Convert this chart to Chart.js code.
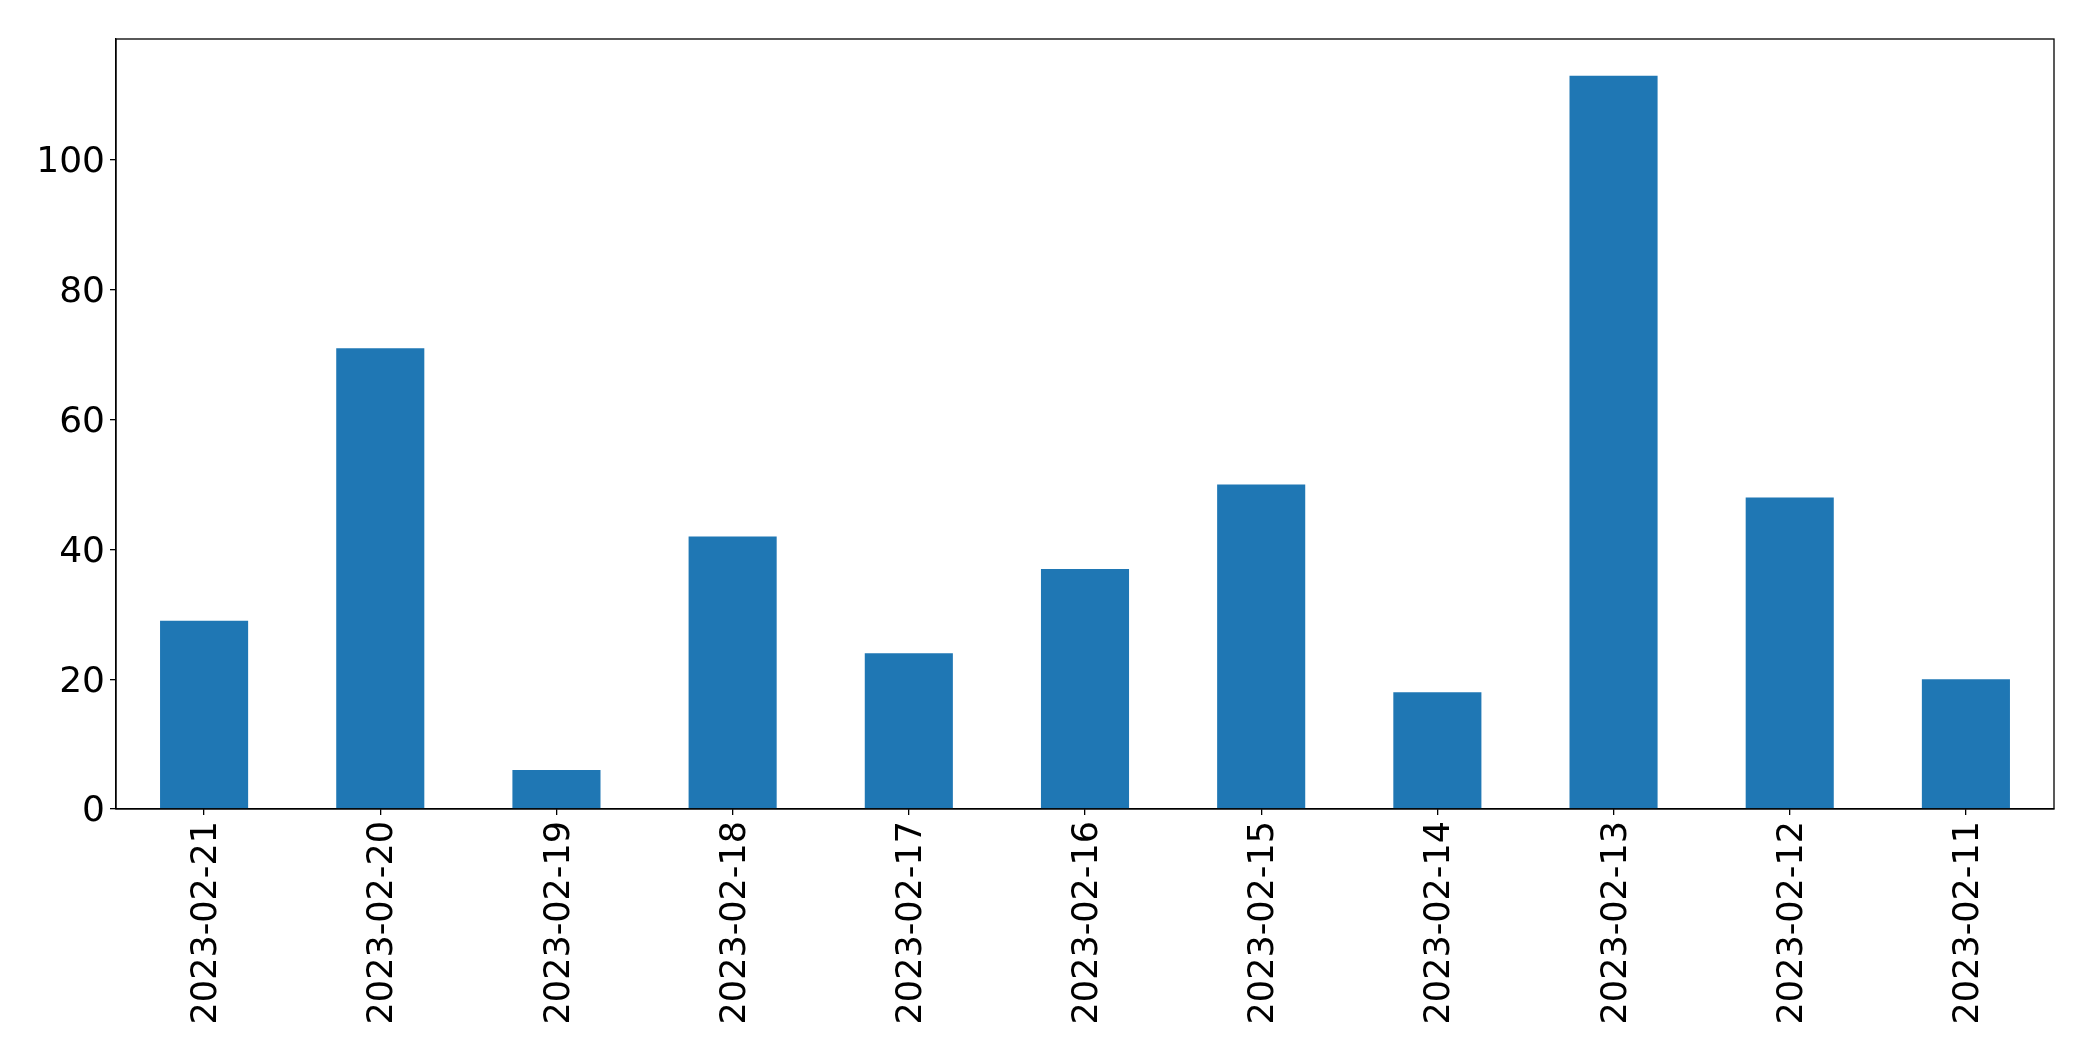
<!DOCTYPE html>
<html>
<head>
<meta charset="utf-8">
<script src="https://cdn.jsdelivr.net/npm/chart.js@4.4.0/dist/chart.umd.min.js"></script>
<style>
html,body{margin:0;padding:0;background:#fff;}
#wrap{width:2093px;height:1061px;position:relative;}
</style>
</head>
<body>
<div id="wrap"><canvas id="c" width="2093" height="1061"></canvas></div>
<script>
const categories = ["2023-02-21","2023-02-20","2023-02-19","2023-02-18","2023-02-17","2023-02-16","2023-02-15","2023-02-14","2023-02-13","2023-02-12","2023-02-11"];
const values = [29, 71, 6, 42, 24, 37, 50, 18, 113, 48, 20];
const yTicks = [0, 20, 40, 60, 80, 100];
const yMax = 118.65;

const frame = {
  id: 'frame',
  afterDraw(chart) {
    const a = chart.chartArea, ctx = chart.ctx;
    ctx.save();
    ctx.strokeStyle = '#000';
    ctx.lineWidth = 1.3;
    ctx.strokeRect(a.left, a.top, a.right - a.left, a.bottom - a.top);
    ctx.restore();
  }
};

new Chart(document.getElementById('c'), {
  type: 'bar',
  data: {
    labels: categories,
    datasets: [{
      data: values,
      backgroundColor: '#1f77b4',
      borderWidth: 0,
      barPercentage: 0.5,
      categoryPercentage: 1.0
    }]
  },
  options: {
    responsive: false,
    animation: false,
    devicePixelRatio: 1,
    layout: { padding: { top: 39, right: 39, left: 0, bottom: 0 } },
    plugins: { legend: { display: false }, tooltip: { enabled: false } },
    scales: {
      x: {
        offset: true,
        grid: { display: true, offset: false, drawOnChartArea: false, tickLength: 6, color: '#000', lineWidth: 1.3 },
        border: { display: true, color: '#000', width: 1.3 },
        ticks: {
          color: '#000',
          font: { family: 'DejaVu Sans', size: 35 },
          minRotation: 90, maxRotation: 90,
          padding: 6,
          labelOffset: 3,
          autoSkip: false
        },
        afterFit(s) { s.height = 252; }
      },
      y: {
        min: 0, max: yMax,
        grid: { display: true, drawOnChartArea: false, tickLength: 6, color: '#000', lineWidth: 1.3 },
        border: { display: true, color: '#000', width: 1.3 },
        afterBuildTicks(s) { s.ticks = yTicks.map(v => ({ value: v })); },
        ticks: {
          color: '#000',
          font: { family: 'DejaVu Sans', size: 36 },
          padding: 5,
          labelOffset: 3
        },
        afterFit(s) { s.width = 116; }
      }
    }
  },
  plugins: [frame]
});
</script>
</body>
</html>
